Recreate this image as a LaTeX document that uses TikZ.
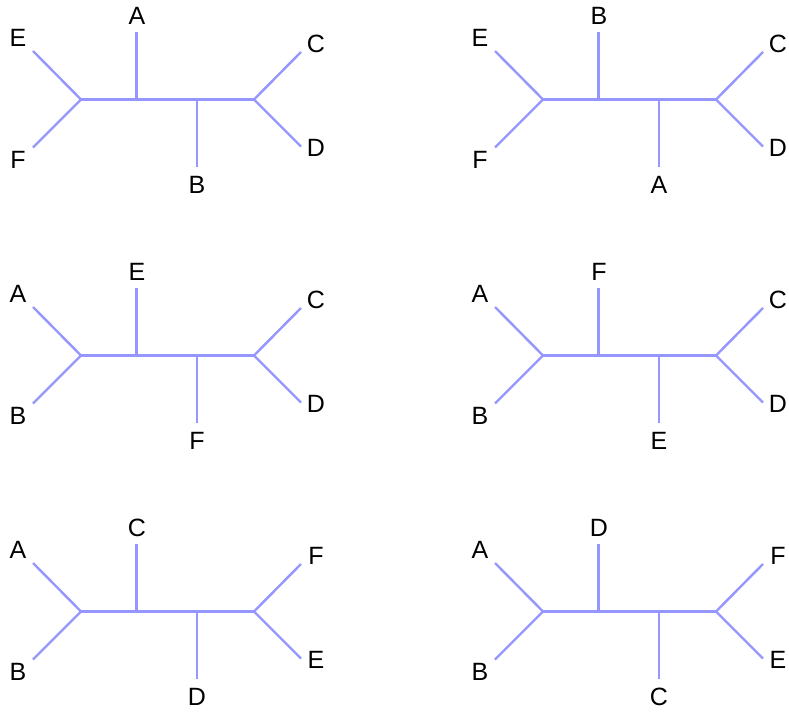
\documentclass[tikz,border=0pt]{standalone}
\usepackage{fontspec}
\setmainfont{Liberation Sans}
\definecolor{branchblue}{RGB}{150,150,255}
\tikzset{
  branch/.style={draw=branchblue, line width=2.4pt, line cap=butt, line join=miter},
  leaf/.style={inner sep=0pt, font=\fontsize{25}{30}\selectfont},
}
% One unrooted four-split tree: #1 name prefix, #2 shift,
% #3 upper-left, #4 lower-left, #5 top, #6 bottom, #7 upper-right, #8 lower-right
\newcommand{\splittree}[8]{%
\begin{scope}[shift={#2}]
  \coordinate (#1L) at (81,99.5);
  \coordinate (#1R) at (254,99.5);
  \coordinate (#1T) at (136.5,99.5);
  \coordinate (#1B) at (197,99.5);
  \coordinate (#1ulend) at (33,51);
  \coordinate (#1llend) at (33,147.5);
  \coordinate (#1tend) at (136.5,32);
  \coordinate (#1bend) at (197,167);
  \coordinate (#1urend) at (301,52);
  \coordinate (#1lrend) at (301,146.5);
  \node[leaf] (#1ul) at (18,38) {#3};
  \node[leaf] (#1ll) at (18,160) {#4};
  \node[leaf] (#1t) at (137,16) {#5};
  \node[leaf] (#1b) at (197,185) {#6};
  \node[leaf] (#1ur) at (316,44) {#7};
  \node[leaf] (#1lr) at (316,148) {#8};
  \draw[branch] (#1ulend) -- (#1L) -- (#1llend);
  \draw[branch] (#1urend) -- (#1R) -- (#1lrend);
  \draw[branch] (#1L) -- (#1R);
  \draw[branch] (#1tend) -- (#1T);
  \draw[branch] (#1bend) -- (#1B);
\end{scope}}
\begin{document}
\begin{tikzpicture}[x=1pt, y=-1pt]
  \useasboundingbox (0,0) rectangle (789,712);
  \fill[white] (0,0) rectangle (789,712);
  \splittree{ta}{(0,0)}{E}{F}{A}{B}{C}{D}
  \splittree{tb}{(462,0)}{E}{F}{B}{A}{C}{D}
  \splittree{tc}{(0,256)}{A}{B}{E}{F}{C}{D}
  \splittree{td}{(462,256)}{A}{B}{F}{E}{C}{D}
  \splittree{te}{(0,512)}{A}{B}{C}{D}{F}{E}
  \splittree{tf}{(462,512)}{A}{B}{D}{C}{F}{E}
\end{tikzpicture}
\end{document}
